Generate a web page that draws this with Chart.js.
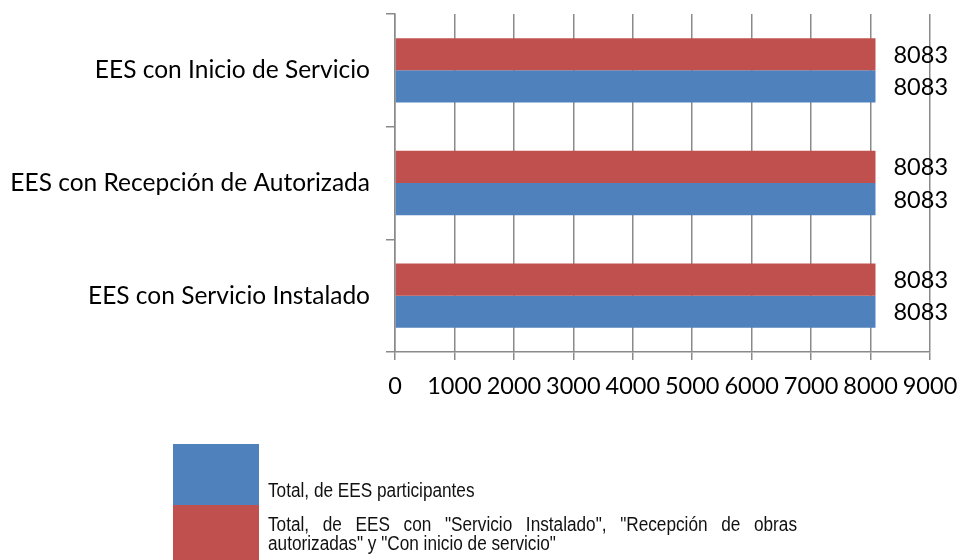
<!DOCTYPE html>
<html>
<head>
<meta charset="utf-8">
<script src="https://cdn.jsdelivr.net/npm/chart.js@4/dist/chart.umd.min.js"></script>
<style>
  html, body { margin: 0; padding: 0; background: #fff; }
  #wrap { position: relative; width: 960px; height: 560px; overflow: hidden; }
  canvas { position: absolute; left: 0; top: 0; }
  .lgbox { position: absolute; }
  .lgline { position: absolute; font-family: "Liberation Sans", Arial, sans-serif; font-size: 20px; line-height: 20px; color: #111; white-space: nowrap; transform-origin: 0 0; }
  .just { text-align: justify; text-align-last: justify; white-space: normal; }
</style>
</head>
<body>
<div id="wrap">
  <canvas id="c" width="960" height="560"></canvas>
  <div id="legend"></div>
</div>
<script>
const categories = ["EES con Inicio de Servicio", "EES con Recepción de Autorizada", "EES con Servicio Instalado"];
const seriesNames = ["Total, de EES con \"Servicio Instalado\", \"Recepción de obras autorizadas\" y \"Con inicio de servicio\"", "Total, de EES participantes"];
const seriesRed = [8083, 8083, 8083];
const seriesBlue = [8083, 8083, 8083];
const xTicks = [0, 1000, 2000, 3000, 4000, 5000, 6000, 7000, 8000, 9000];
const colors = ["#C0504D", "#4F81BD"];

const FONT = "Lato, 'Open Sans', sans-serif";
const FSIZE = 23.5;
const gridColor = "#8a8a8a";

const valueLabels = {
  id: "valueLabels",
  afterDatasetsDraw(chart) {
    const ctx = chart.ctx;
    ctx.save();
    ctx.font = FSIZE + "px " + FONT;
    ctx.fillStyle = "#000";
    ctx.textAlign = "left";
    ctx.textBaseline = "middle";
    chart.data.datasets.forEach((ds, i) => {
      const meta = chart.getDatasetMeta(i);
      meta.data.forEach((bar, j) => {
        ctx.fillText(String(ds.data[j]), bar.x + 18, bar.y + 1);
      });
    });
    ctx.restore();
  }
};

new Chart(document.getElementById("c"), {
  type: "bar",
  data: {
    labels: categories,
    datasets: [
      { label: seriesNames[0], data: seriesRed, backgroundColor: colors[0], borderWidth: 0 },
      { label: seriesNames[1], data: seriesBlue, backgroundColor: colors[1], borderWidth: 0 }
    ]
  },
  options: {
    indexAxis: "y",
    responsive: false,
    animation: false,
    categoryPercentage: 0.571,
    barPercentage: 1.0,
    layout: { padding: { left: 0, right: 30, top: 14, bottom: 158 } },
    plugins: { legend: { display: false }, tooltip: { enabled: false } },
    scales: {
      x: {
        type: "linear",
        min: 0, max: 9000,
        afterBuildTicks(scale) { scale.ticks = xTicks.map(v => ({ value: v })); },
        afterFit(scale) { scale.height = 50; scale.paddingLeft = 0; scale.paddingRight = 0; },
        ticks: { color: "#000", font: { family: FONT, size: FSIZE }, padding: 12, maxRotation: 0, autoSkip: false,
                 callback: (v) => String(v) },
        grid: { color: gridColor, lineWidth: 1.5, tickLength: 8 },
        border: { color: gridColor, width: 1.5 }
      },
      y: {
        type: "category",
        afterFit(scale) { scale.width = 395; scale.paddingTop = 0; scale.paddingBottom = 0; },
        ticks: { color: "#000", font: { family: FONT, size: 24.5 }, padding: 16 },
        grid: { drawOnChartArea: false, color: gridColor, lineWidth: 1.5, tickLength: 9 },
        border: { color: gridColor, width: 1.5 }
      }
    }
  },
  plugins: [valueLabels]
});

// legend (blue first, then red), as in the reference
const legend = document.getElementById("legend");
const SX = 0.86;
function addBox(color, top, h) {
  const b = document.createElement("div");
  b.className = "lgbox";
  b.style.cssText = `left:173px;top:${top}px;width:86px;height:${h}px;background:${color};`;
  legend.appendChild(b);
}
function addLine(text, top, width, justify) {
  const t = document.createElement("div");
  t.className = "lgline" + (justify ? " just" : "");
  t.style.cssText = `left:268px;top:${top}px;` + (justify ? `width:${width / SX}px;` : "") + `transform:scaleX(${SX});`;
  t.textContent = text;
  legend.appendChild(t);
}
addBox(colors[1], 444, 61);
addBox(colors[0], 505, 60);
addLine(seriesNames[1], 480, 0, false);
const cut = seriesNames[0].indexOf("obras") + "obras".length;
addLine(seriesNames[0].slice(0, cut), 514, 529, true);
addLine(seriesNames[0].slice(cut + 1), 533, 0, false);
</script>
</body>
</html>
